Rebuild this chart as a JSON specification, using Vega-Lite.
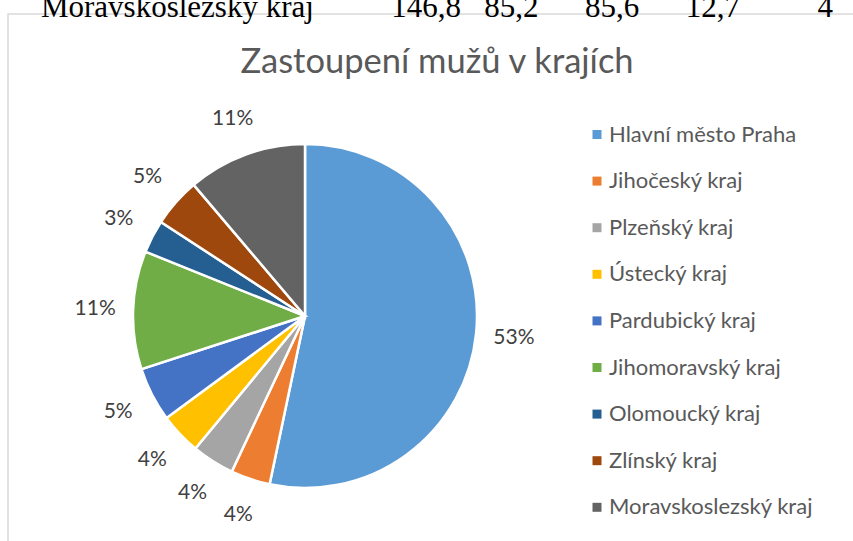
{
  "$schema": "https://vega.github.io/schema/vega-lite/v6.json",
  "autosize": "none",
  "width": 847,
  "height": 529,
  "padding": {"left": 8, "top": 14, "right": -2, "bottom": -2},
  "background": "white",
  "view": {"stroke": "#d9d9d9", "strokeWidth": 1.5},
  "title": {
    "text": "Moravskoslezský kraj\u00a0\u00a0\u00a0\u00a0\u00a0\u00a0\u00a0\u00a0\u00a0\u00a0146,8\u00a0\u00a0\u00a085,2\u00a0\u00a0\u00a0\u00a0\u00a0\u00a085,6\u00a0\u00a0\u00a0\u00a0\u00a0\u00a012,7\u00a0\u00a0\u00a0\u00a0\u00a0\u00a0\u00a0\u00a0\u00a0\u00a04",
    "subtitle": "Zastoupení mužů v krajích",
    "anchor": "middle",
    "dx": 5.5,
    "offset": -66,
    "font": "Liberation Serif",
    "fontSize": 31,
    "fontWeight": "normal",
    "color": "#000000",
    "subtitleFont": "Lato",
    "subtitleFontSize": 34.5,
    "subtitleColor": "#595959",
    "subtitlePadding": 22
  },
  "data": {
    "values": [
      {"region": "Hlavní město Praha", "share": 0.533, "idx": 1},
      {"region": "Jihočeský kraj", "share": 0.037, "idx": 2},
      {"region": "Plzeňský kraj", "share": 0.040, "idx": 3},
      {"region": "Ústecký kraj", "share": 0.039, "idx": 4},
      {"region": "Pardubický kraj", "share": 0.051, "idx": 5},
      {"region": "Jihomoravský kraj", "share": 0.111, "idx": 6},
      {"region": "Olomoucký kraj", "share": 0.031, "idx": 7},
      {"region": "Zlínský kraj", "share": 0.046, "idx": 8},
      {"region": "Moravskoslezský kraj", "share": 0.112, "idx": 9}
    ]
  },
  "layer": [
    {
      "mark": {"type": "arc", "x": 297, "y": 302, "outerRadius": 172, "stroke": "#ffffff", "strokeWidth": 2.5},
      "encoding": {
        "theta": {"field": "share", "type": "quantitative", "stack": true},
        "order": {"field": "idx", "type": "quantitative"},
        "color": {
          "field": "region",
          "type": "nominal",
          "scale": {
            "domain": ["Hlavní město Praha", "Jihočeský kraj", "Plzeňský kraj", "Ústecký kraj", "Pardubický kraj", "Jihomoravský kraj", "Olomoucký kraj", "Zlínský kraj", "Moravskoslezský kraj"],
            "range": ["#5B9BD5", "#ED7D31", "#A5A5A5", "#FFC000", "#4472C4", "#70AD47", "#255E91", "#9E480E", "#636363"]
          },
          "legend": {
            "title": null,
            "orient": "none",
            "legendX": 578,
            "legendY": 109.5,
            "symbolType": "square",
            "symbolSize": 81,
            "symbolStrokeWidth": 0,
            "labelFont": "Lato",
            "labelFontSize": 22,
            "labelColor": "#595959",
            "labelOffset": 1,
            "rowPadding": 24.6,
            "labelLimit": 400
          }
        }
      }
    },
    {
      "mark": {"type": "text", "x": 297, "y": 302, "radius": 210, "font": "Lato", "fontSize": 21, "fill": "#404040"},
      "encoding": {
        "theta": {"field": "share", "type": "quantitative", "stack": true},
        "order": {"field": "idx", "type": "quantitative"},
        "text": {"field": "share", "type": "quantitative", "format": ".0%"}
      }
    }
  ],
  "config": {
    "view": {"stroke": "#d9d9d9", "strokeWidth": 1.5}
  }
}
